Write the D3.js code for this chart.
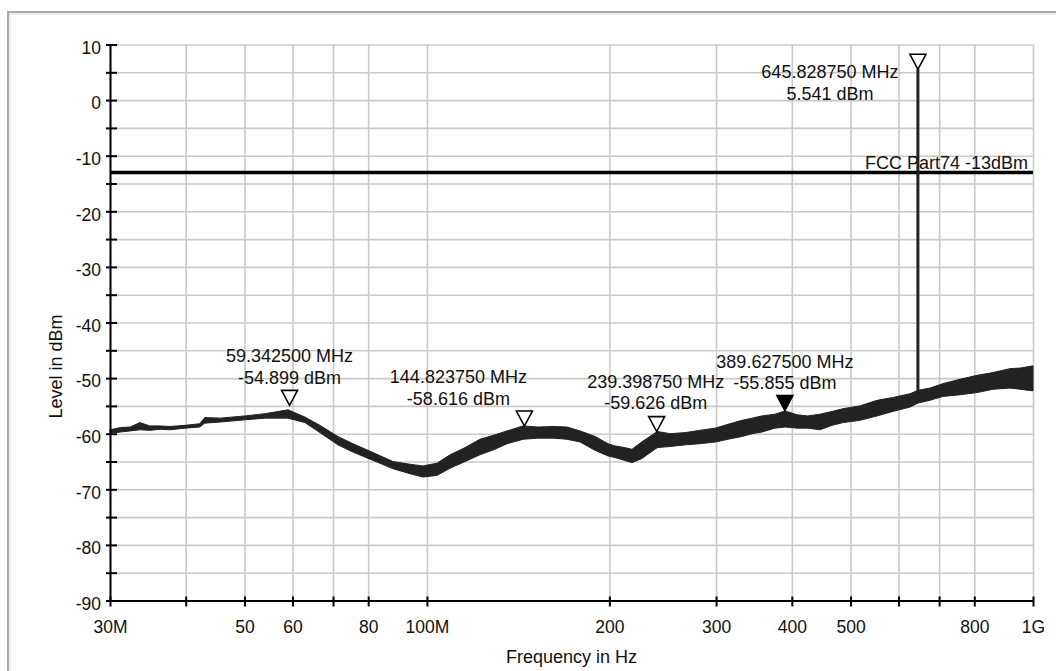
<!DOCTYPE html>
<html>
<head>
<meta charset="utf-8">
<script src="https://cdnjs.cloudflare.com/ajax/libs/d3/7.8.5/d3.min.js"></script>
<style>
  body { margin: 0; background: #fff; }
  svg text { font-family: "Liberation Sans", Arial, sans-serif; font-size: 18px; fill: #111; }
</style>
</head>
<body>
<div id="chart"></div>
<script>
// trace envelope (MHz, dBm)
const traceFreq = [30, 31.2, 32.4, 33.6, 34.9, 36.3, 37.7, 39.9, 42.2, 43.0, 45.6, 50.1, 54.1, 59.0,
  62.9, 66.6, 71.3, 75.5, 81.5, 87.9, 93.8, 98.5, 103.9, 109.2, 115.6, 122.3, 129.5, 135.6, 144.1,
  152.5, 161.5, 170.3, 179, 189.5, 199, 204.3, 212, 218, 226, 240, 252, 267, 282, 299, 314, 331,
  344, 357, 375, 390, 408, 425, 445, 466, 486, 518, 553, 587, 627, 646, 676, 710, 758, 809, 859,
  916, 952, 1000];
const traceMin = [-59.9, -59.7, -59.5, -59.3, -59.4, -59.2, -59.3, -59.0, -58.8, -58.1, -57.9, -57.5, -57.2, -57.2,
  -58.0, -59.8, -62.0, -63.3, -64.8, -66.3, -67.2, -67.8, -67.5, -66.2, -65.0, -63.8, -62.8, -61.8, -61.0,
  -60.8, -60.8, -61.0, -61.5, -63.0, -64.0, -64.3, -64.8, -65.2, -64.5, -62.5, -62.3, -62.0, -61.8, -61.5, -61.0, -60.5,
  -60.0, -59.7, -59.0, -58.8, -59.0, -59.0, -59.3, -58.5, -58.0, -57.6, -56.8, -56.0, -55.2, -54.5, -54.0, -53.3, -53.0, -52.6, -52.0,
  -51.8, -52.0, -52.3];
const traceMax = [-59.3, -58.9, -58.8, -58.0, -58.6, -58.6, -58.7, -58.5, -58.2, -57.1, -57.2, -56.8, -56.4, -55.7,
  -57.0, -58.5, -60.5, -61.8, -63.4, -65.0, -65.5, -65.8, -65.3, -63.8, -62.5, -61.0, -60.2, -59.5, -58.6,
  -58.8, -58.7, -58.8, -59.5, -60.5, -61.8, -62.2, -62.5, -62.8, -61.5, -59.6, -60.0, -59.8, -59.4, -59.0, -58.3, -57.6,
  -57.2, -56.8, -56.5, -55.9, -56.6, -56.8, -56.5, -56.0, -55.5, -55.0, -54.0, -53.5, -52.8, -52.2, -51.8, -51.0, -50.2, -49.5, -49.0,
  -48.3, -48.2, -47.8];

// markers
const markerFreq = [59.3425, 144.82375, 239.39875, 389.6275, 645.82875];
const markerLevel = [-54.899, -58.616, -59.626, -55.855, 5.541];
const markerFilled = [false, false, false, true, false];
const markerText = [
  ["59.342500 MHz", "-54.899 dBm"],
  ["144.823750 MHz", "-58.616 dBm"],
  ["239.398750 MHz", "-59.626 dBm"],
  ["389.627500 MHz", "-55.855 dBm"],
  ["645.828750 MHz", "5.541 dBm"]
];
// spike under marker 5 starts at the trace
const spikeBase = -53.0;

// limit line
const limitLevel = -13;
const limitLabel = "FCC Part74 -13dBm";

// axes
const xTickValues = [30, 40, 50, 60, 70, 80, 100, 200, 300, 400, 500, 600, 700, 800, 1000];
const xTickLabels = ["30M", "", "50", "60", "", "80", "100M", "200", "300", "400", "500", "", "", "800", "1G"];
const yTickValues = d3.range(-90, 11, 5);

// layout of marker labels: horizontal shift of label centre, first baseline relative to triangle top
const labelShift = [0, -66, -1, 0, -88];
const labelRise = [-28, -28, -29, -28, 24];

const dim = {
  width: 1056,
  height: 671,
  margin: { top: 44.5, right: 23, bottom: 70.5, left: 110 }
};
dim.boundsWidth = dim.width - dim.margin.left - dim.margin.right;
dim.boundsHeight = dim.height - dim.margin.top - dim.margin.bottom;

const svg = d3.select("#chart").append("svg")
  .attr("width", dim.width)
  .attr("height", dim.height);

// outer frame
svg.append("rect")
  .attr("x", 8).attr("y", 12)
  .attr("width", 1200).attr("height", 800)
  .attr("fill", "#fff")
  .attr("stroke", "#ababab")
  .attr("stroke-width", 2);
svg.append("rect")
  .attr("x", 10).attr("y", 14)
  .attr("width", 1200).attr("height", 800)
  .attr("fill", "none")
  .attr("stroke", "#efefef")
  .attr("stroke-width", 2);

const g = svg.append("g")
  .attr("transform", `translate(${dim.margin.left},${dim.margin.top})`);

const x = d3.scaleLog()
  .domain([30, 1000])
  .range([0, dim.boundsWidth]);
const y = d3.scaleLinear()
  .domain([-90, 10])
  .range([dim.boundsHeight, 0]);

// grid
g.append("g")
  .attr("class", "grid")
  .call(d3.axisBottom(x).tickValues(xTickValues).tickSize(dim.boundsHeight).tickFormat(""))
  .call(s => s.select(".domain").remove())
  .selectAll("line").attr("stroke", "#c9c9c9").attr("stroke-width", 1.6);
g.append("g")
  .attr("class", "grid")
  .call(d3.axisRight(y).tickValues(yTickValues).tickSize(dim.boundsWidth).tickFormat(""))
  .call(s => s.select(".domain").remove())
  .selectAll("line").attr("stroke", "#c9c9c9").attr("stroke-width", 1.6);

// limit line
g.append("line")
  .attr("x1", 0).attr("x2", dim.boundsWidth)
  .attr("y1", y(limitLevel)).attr("y2", y(limitLevel))
  .attr("stroke", "#000").attr("stroke-width", 3.5);
g.append("text")
  .attr("x", dim.boundsWidth - 5)
  .attr("y", y(limitLevel) - 3.5)
  .attr("text-anchor", "end")
  .text(limitLabel);

// trace
const traceData = traceFreq.map((f, i) => ({ f, lo: traceMin[i], hi: traceMax[i] }));
g.append("path")
  .datum(traceData)
  .attr("d", d3.area().x(d => x(d.f)).y0(d => y(d.lo)).y1(d => y(d.hi)))
  .attr("fill", "#222")
  .attr("stroke", "#222")
  .attr("stroke-width", 1)
  .attr("stroke-linejoin", "miter");

// spike at marker 5
g.append("line")
  .attr("x1", x(markerFreq[4])).attr("x2", x(markerFreq[4]))
  .attr("y1", y(spikeBase)).attr("y2", y(markerLevel[4]))
  .attr("stroke", "#222").attr("stroke-width", 3);

// axes
const yAxis = g.append("g")
  .call(d3.axisLeft(y).tickValues(yTickValues)
    .tickFormat(d => d % 10 === 0 ? d : "")
    .tickSize(0).tickPadding(9).tickSizeOuter(0));
yAxis.select(".domain").attr("stroke", "#000").attr("stroke-width", 2);
yAxis.selectAll(".tick line").attr("x1", -4).attr("x2", 7).attr("stroke", "#000").attr("stroke-width", 2);
yAxis.selectAll(".tick text").attr("dy", "0.5em").style("font-size", "17.5px").style("font-family", "Liberation Sans, Arial, sans-serif").attr("fill", "#111");

const xAxis = g.append("g")
  .attr("transform", `translate(0,${dim.boundsHeight})`)
  .call(d3.axisBottom(x).tickValues(xTickValues)
    .tickFormat((d, i) => xTickLabels[i])
    .tickSize(0).tickPadding(20).tickSizeOuter(0));
xAxis.select(".domain").attr("stroke", "#000").attr("stroke-width", 2);
xAxis.selectAll(".tick line").attr("y1", -4).attr("y2", 6).attr("stroke", "#000").attr("stroke-width", 2);
xAxis.selectAll(".tick text").style("font-size", "17.5px").style("font-family", "Liberation Sans, Arial, sans-serif").attr("fill", "#111");

// markers
const markers = markerFreq.map((f, i) => ({ f, v: markerLevel[i], filled: markerFilled[i], txt: markerText[i], i }));
const mk = g.selectAll(".marker").data(markers).join("g").attr("class", "marker");
mk.append("path")
  .attr("d", d => {
    const mx = x(d.f), my = y(d.v);
    return `M${mx - 8},${my - 15}L${mx + 8},${my - 15}L${mx},${my}Z`;
  })
  .attr("fill", d => d.filled ? "#000" : "#fff")
  .attr("stroke", "#000")
  .attr("stroke-width", 1.6);
mk.each(function (d) {
  const mx = x(d.f) + labelShift[d.i];
  const top = y(d.v) - 15;
  const t = d3.select(this);
  t.append("text").attr("x", mx).attr("y", top + labelRise[d.i]).attr("text-anchor", "middle").text(d.txt[0]);
  t.append("text").attr("x", mx).attr("y", top + labelRise[d.i] + 21.5).attr("text-anchor", "middle").text(d.txt[1]);
});

// axis titles
svg.append("text")
  .attr("text-anchor", "middle")
  .attr("x", dim.margin.left + dim.boundsWidth / 2)
  .attr("y", 663)
  .text("Frequency in Hz");
svg.append("text")
  .attr("text-anchor", "middle")
  .attr("transform", `translate(62,${dim.margin.top + dim.boundsHeight / 2 + 44}) rotate(-90)`)
  .text("Level in dBm");
</script>
</body>
</html>
